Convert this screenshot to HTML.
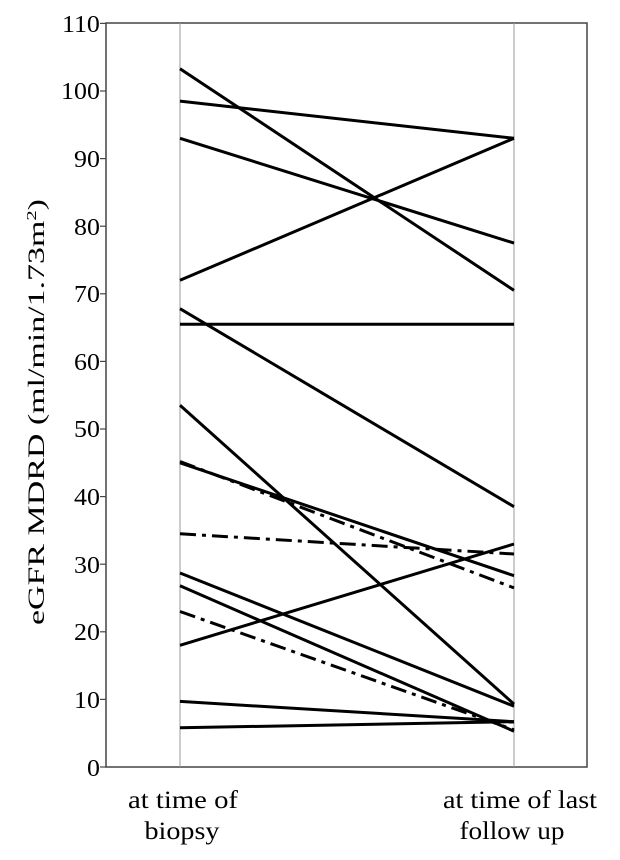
<!DOCTYPE html>
<html><head><style>body{margin:0;background:#fff}svg{display:block}</style></head>
<body>
<svg width="620" height="860" xmlns="http://www.w3.org/2000/svg" font-family="Liberation Serif, serif" fill="#000">
<rect x="106" y="23" width="481" height="744" fill="none" stroke="#444" stroke-width="1.5"/>
<line x1="180" y1="23" x2="180" y2="767" stroke="#999" stroke-width="1"/>
<line x1="514" y1="23" x2="514" y2="767" stroke="#999" stroke-width="1"/>
<g stroke="#444" stroke-width="1.2">
<line x1="100" y1="767" x2="106" y2="767"/><line x1="100" y1="699.4" x2="106" y2="699.4"/>
<line x1="100" y1="631.8" x2="106" y2="631.8"/><line x1="100" y1="564.2" x2="106" y2="564.2"/>
<line x1="100" y1="496.6" x2="106" y2="496.6"/><line x1="100" y1="429" x2="106" y2="429"/>
<line x1="100" y1="361.4" x2="106" y2="361.4"/><line x1="100" y1="293.8" x2="106" y2="293.8"/>
<line x1="100" y1="226.2" x2="106" y2="226.2"/><line x1="100" y1="158.6" x2="106" y2="158.6"/>
<line x1="100" y1="91" x2="106" y2="91"/><line x1="100" y1="23.4" x2="106" y2="23.4"/>
</g>
<g font-size="24" text-anchor="end" transform="scale(1.08,1)">
<text x="92.5" y="776">0</text><text x="92.5" y="708">10</text><text x="92.5" y="640">20</text>
<text x="92.5" y="573">30</text><text x="92.5" y="505">40</text><text x="92.5" y="437">50</text>
<text x="92.5" y="370">60</text><text x="92.5" y="302">70</text><text x="92.5" y="235">80</text>
<text x="92.5" y="167">90</text><text x="92.5" y="99">100</text><text x="92.5" y="32">110</text>
</g>
<text transform="translate(44,412) rotate(-90)" font-size="23" text-anchor="middle" textLength="426" lengthAdjust="spacingAndGlyphs">eGFR MDRD (ml/min/1.73m<tspan font-size="14" dy="-8">2</tspan><tspan dy="8">)</tspan></text>
<g font-size="25" text-anchor="middle">
<text x="183" y="808" textLength="110" lengthAdjust="spacingAndGlyphs">at time of</text>
<text x="182" y="839" textLength="75" lengthAdjust="spacingAndGlyphs">biopsy</text>
<text x="520" y="808" textLength="154" lengthAdjust="spacingAndGlyphs">at time of last</text>
<text x="512" y="839" textLength="105" lengthAdjust="spacingAndGlyphs">follow up</text>
</g>
<g stroke="#000" stroke-width="3" fill="none">
<line x1="180" y1="68.7" x2="514" y2="290.4"/>
<line x1="180" y1="101.1" x2="514" y2="138.3"/>
<line x1="180" y1="138.3" x2="514" y2="243.1"/>
<line x1="180" y1="280.3" x2="514" y2="138.3"/>
<line x1="180" y1="324.2" x2="514" y2="324.2"/>
<line x1="180" y1="308.7" x2="514" y2="506.7"/>
<line x1="180" y1="405.3" x2="514" y2="704.1"/>
<line x1="180" y1="462.8" x2="514" y2="575.7"/>
<line x1="180" y1="573" x2="514" y2="706.2"/>
<line x1="180" y1="585.8" x2="514" y2="731.2"/>
<line x1="180" y1="645.3" x2="514" y2="544"/>
<line x1="180" y1="701.4" x2="514" y2="721.7"/>
<line x1="180" y1="727.8" x2="514" y2="721.7"/>
</g>
<g stroke="#000" stroke-width="3" fill="none" stroke-dasharray="16,6,4,6">
<line x1="180" y1="461.5" x2="514" y2="587.9"/>
<line x1="180" y1="533.8" x2="514" y2="554"/>
<line x1="180" y1="611.5" x2="514" y2="729.8"/>
</g>
</svg>
</body></html>
